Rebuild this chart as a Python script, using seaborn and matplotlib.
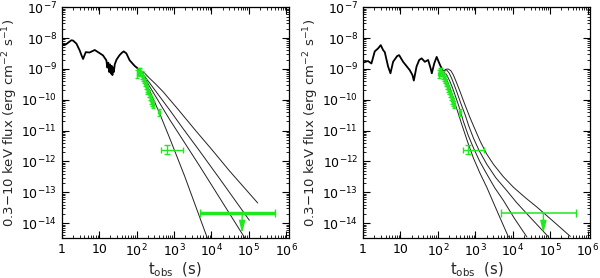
import numpy as np
import pandas as pd
import matplotlib
matplotlib.use("Agg")
import matplotlib.pyplot as plt
import seaborn as sns
from matplotlib.ticker import LogLocator, FixedLocator, FixedFormatter, NullFormatter

# ---------------- data ----------------
# left panel: observed light curve (black)
lc_left_t = [1.0, 1.3, 1.8, 2.0, 2.46, 3.0, 3.35, 3.7, 4.37, 5.5, 7.6, 9.3, 12.6, 15.5,
             16.5, 17.5, 18.5, 19.5, 20.5, 21.5, 22.5, 23.5, 24.5, 26, 29, 35, 40, 45,
             53, 65, 88, 120]
lc_left_f = [5.9e-9, 6.3e-9, 8.5e-9, 8.3e-9, 6.6e-9, 4.0e-9, 2.8e-9, 2.1e-9, 3.5e-9,
             3.4e-9, 4.1e-9, 3.5e-9, 2.75e-9, 1.9e-9, 1.1e-9, 1.6e-9, 7.9e-10, 1.4e-9,
             7.1e-10, 1.26e-9, 6.3e-10, 1.1e-9, 7.9e-10, 1.4e-9, 2.0e-9, 2.8e-9, 3.3e-9,
             3.7e-9, 3.2e-9, 1.9e-9, 1.26e-9, 9.2e-10]

# right panel: observed light curve (black)
lc_right_t = [1.0, 1.36, 1.68, 2.06, 2.52, 2.98, 3.44, 3.82, 4.68, 5.42, 6.37, 8.16, 9.23,
              11.8, 17.8, 21, 22.8, 27, 31.8, 36.8, 45, 55, 64, 69, 80, 93, 114, 140]
lc_right_f = [1.6e-9, 1.8e-9, 1.5e-9, 3.7e-9, 4.6e-9, 5.9e-9, 4.1e-9, 3.5e-9, 1.2e-9,
              7.2e-10, 1.7e-9, 2.6e-9, 2.8e-9, 1.7e-9, 9.1e-10, 6.3e-10, 4.2e-10, 1.2e-9,
              1.95e-9, 2.2e-9, 1.7e-9, 1.95e-9, 1.05e-9, 7.2e-10, 1.5e-9, 2.45e-9,
              1.35e-9, 8.1e-10]

# left panel model curves (t in s, flux in erg cm^-2 s^-1)
mL1_t = [120, 222, 411, 759, 1905, 7800]
mL1_f = [9.2e-10, 2.0e-10, 3.6e-11, 5.8e-12, 3.4e-13, 3.2e-15]
mL2_t = [120, 158, 222, 759, 4790, 7.9e4]
mL2_f = [9.2e-10, 5.5e-10, 2.7e-10, 2.3e-11, 7.2e-13, 3.2e-15]
mL3_t = [120, 158, 222, 398, 759, 1778, 4790, 2.0e4, 1.03e5]
mL3_f = [9.2e-10, 6.0e-10, 3.5e-10, 1.35e-10, 4.7e-11, 1.12e-11, 2.2e-12, 2.0e-13,
         1.23e-14]
mL4_t = [120, 158, 222, 316, 503, 1259, 3910, 1.0e4, 3.02e4, 1.72e5]
mL4_f = [9.2e-10, 7.6e-10, 4.95e-10, 3.3e-10, 1.85e-10, 5.0e-11, 9.5e-12, 2.5e-12,
         4.95e-13, 4.5e-14]

# right panel model curves
mR1_t = [140, 162, 190, 219, 259, 331, 435, 617, 889, 1318, 2033, 3981, 7710]
mR1_f = [7.2e-10, 5.2e-10, 3.4e-10, 2.1e-10, 1.12e-10, 4.5e-11, 1.6e-11, 4.5e-12,
         1.3e-12, 4.3e-13, 1.45e-13, 2.2e-14, 3.55e-15]
mR2_t = [140, 174, 211, 245, 287, 363, 480, 646, 889, 1318, 2033, 3311, 5670, 1.12e4,
         2.4e4]
mR2_f = [8.1e-10, 6.3e-10, 3.9e-10, 2.5e-10, 1.44e-10, 6.3e-11, 2.0e-11, 7.1e-12,
         2.8e-12, 1.0e-12, 3.9e-13, 1.4e-13, 5.4e-14, 1.4e-14, 3.55e-15]
mR3_t = [140, 155, 172, 200, 234, 269, 319, 407, 533, 676, 889, 1259, 2033, 3548, 7000,
         1.26e4, 2.4e4, 9.1e4]
mR3_f = [8.1e-10, 9.3e-10, 9.2e-10, 7.4e-10, 4.95e-10, 3.2e-10, 1.85e-10, 7.9e-11,
         3.3e-11, 1.38e-11, 5.8e-12, 2.3e-12, 8.1e-13, 2.95e-13, 1.12e-13, 4.7e-14,
         2.0e-14, 3.55e-15]
mR4_t = [140, 166, 190, 224, 259, 316, 391, 525, 726, 1000, 1345, 1995, 3055, 5623,
         1.05e4, 2.24e4, 4.46e4, 1.24e5, 3.48e5]
mR4_f = [8.1e-10, 9.8e-10, 9.9e-10, 8.7e-10, 6.4e-10, 3.6e-10, 1.85e-10, 7.1e-11,
         2.6e-11, 1.05e-11, 4.6e-12, 1.78e-12, 8.1e-13, 3.2e-13, 1.45e-13, 6.5e-14,
         3.3e-14, 1.12e-14, 3.7e-15]

# green observations (XRT)
obs_t = [105, 115, 125, 135, 145, 155, 165, 175, 185, 195, 210, 225, 240, 255, 270, 390]
obs_f = [7.0e-10, 8.5e-10, 8.0e-10, 6.5e-10, 5.5e-10, 4.5e-10, 3.6e-10, 3.0e-10,
         2.4e-10, 2.0e-10, 1.6e-10, 1.3e-10, 1.0e-10, 8.5e-11, 7.0e-11, 4.0e-11]
late_t, late_tlo, late_thi, late_f = 640, 460, 1750, 2.4e-12
ul_t, ul_tlo, ul_thi, ul_f, ul_tip = 6.6e4, 4900, 5.0e5, 2.15e-14, 4.7e-15

xticks = [1, 10, 1e2, 1e3, 1e4, 1e5, 1e6]
xticklabels = ["1", "10", r"$10^{2}$", r"$10^{3}$", r"$10^{4}$", r"$10^{5}$", r"$10^{6}$"]
yticks = [1e-14, 1e-13, 1e-12, 1e-11, 1e-10, 1e-9, 1e-8, 1e-7]
yticklabels = [r"$10^{-14}$", r"$10^{-13}$", r"$10^{-12}$", r"$10^{-11}$",
               r"$10^{-10}$", r"$10^{-9}$", r"$10^{-8}$", r"$10^{-7}$"]

GREEN = "#1fe81f"

# ---------------- figure ----------------
sns.set_theme(style="ticks")
plt.rcParams["font.family"] = ["DejaVu Sans"]
plt.rcParams["mathtext.fontset"] = "dejavusans"

fig = plt.figure(figsize=(6.0, 2.78), dpi=100)
axL = fig.add_axes([0.103, 0.144, 0.378, 0.830])
axR = fig.add_axes([0.605, 0.144, 0.378, 0.830])


def draw_panel(ax, lc_t, lc_f, models, ul_lw):
    sns.lineplot(x=lc_t, y=lc_f, ax=ax, color="black", lw=1.3, sort=False,
                 estimator=None)
    for mt, mf in models:
        sns.lineplot(x=mt, y=mf, ax=ax, color="#222222", lw=0.7, sort=False,
                     estimator=None)
    o_t = np.array(obs_t)
    o_f = np.array(obs_f)
    ax.errorbar(o_t, o_f, xerr=0.05 * o_t, yerr=[0.25 * o_f, 0.3 * o_f], fmt="none",
                ecolor=GREEN, elinewidth=1.0, capsize=1.5, capthick=1.0, zorder=3)
    ax.errorbar([late_t], [late_f], xerr=[[late_t - late_tlo], [late_thi - late_t]],
                yerr=[[0.3 * late_f], [0.4 * late_f]], fmt="none", ecolor=GREEN,
                elinewidth=1.0, capsize=2.5, capthick=1.0, zorder=3)
    ax.errorbar([ul_t], [ul_f], xerr=[[ul_t - ul_tlo], [ul_thi - ul_t]], fmt="none",
                ecolor=GREEN, elinewidth=ul_lw, capsize=3, capthick=1.0, zorder=3)
    ax.annotate("", xy=(ul_t, ul_tip), xytext=(ul_t, ul_f),
                arrowprops=dict(arrowstyle="-|>,head_length=0.6,head_width=0.15",
                                color=GREEN, lw=1.0, shrinkA=0, shrinkB=0))

    ax.set_xscale("log")
    ax.set_yscale("log")
    ax.set_xlim(1, 1.15e6)
    ax.set_ylim(3.3e-15, 1e-7)
    ax.xaxis.set_major_locator(FixedLocator(xticks))
    ax.xaxis.set_major_formatter(FixedFormatter(xticklabels))
    ax.yaxis.set_major_locator(FixedLocator(yticks))
    ax.yaxis.set_major_formatter(FixedFormatter(yticklabels))
    ax.xaxis.set_minor_locator(LogLocator(base=10, subs=np.arange(2, 10), numticks=20))
    ax.yaxis.set_minor_locator(LogLocator(base=10, subs=np.arange(2, 10), numticks=20))
    ax.xaxis.set_minor_formatter(NullFormatter())
    ax.yaxis.set_minor_formatter(NullFormatter())
    ax.tick_params(which="both", direction="in", top=True, right=True, colors="black",
                   labelsize=9)
    ax.tick_params(which="major", length=5, width=0.8)
    ax.tick_params(which="minor", length=2.5, width=0.6)
    for s in ax.spines.values():
        s.set_linewidth(0.9)
        s.set_color("black")
    ax.set_xlabel(r"t$_{\rm obs}$  (s)", fontsize=10.5, labelpad=1)
    ax.set_ylabel(r"0.3$-$10 keV flux (erg cm$^{-2}$ s$^{-1}$)", fontsize=9.5,
                  labelpad=1)


draw_panel(axL, lc_left_t, lc_left_f,
           [(mL1_t, mL1_f), (mL2_t, mL2_f), (mL3_t, mL3_f), (mL4_t, mL4_f)], 2.5)
draw_panel(axR, lc_right_t, lc_right_f,
           [(mR1_t, mR1_f), (mR2_t, mR2_f), (mR3_t, mR3_f), (mR4_t, mR4_f)], 1.1)

fig.savefig("out.png", dpi=100)
